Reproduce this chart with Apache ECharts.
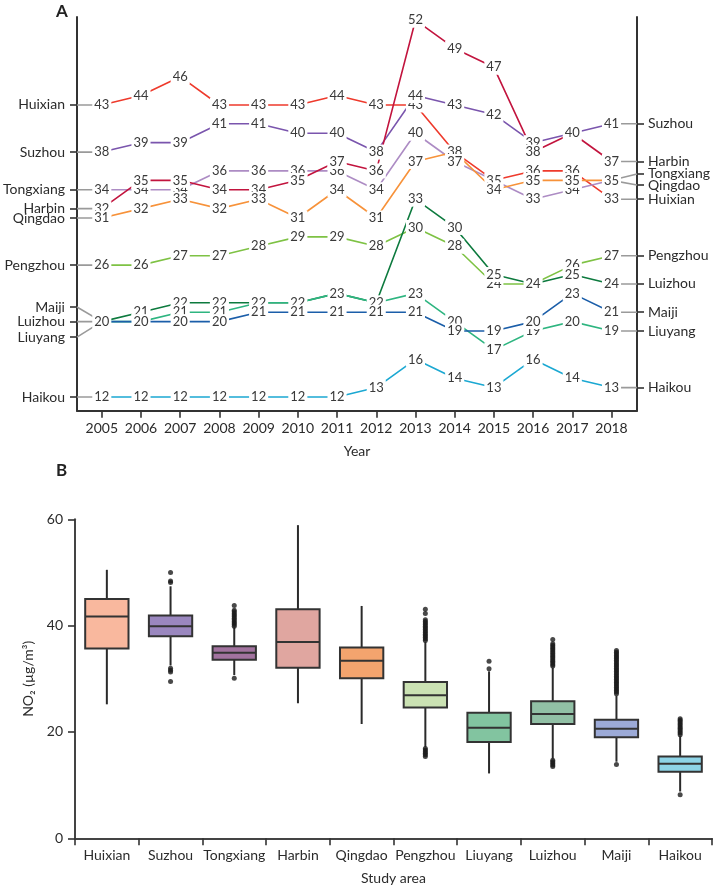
<!DOCTYPE html>
<html><head><meta charset="utf-8">
<script src="https://cdn.jsdelivr.net/npm/echarts@6/dist/echarts.min.js"></script>
<style>html,body{margin:0;padding:0;background:#fff}#c{width:713px;height:888px}</style>
</head><body><div id="c"></div>
<script>
// ---------- Panel A data ----------
const years = [2005,2006,2007,2008,2009,2010,2011,2012,2013,2014,2015,2016,2017,2018];
const huixian   = [43,44,46,43,43,43,44,43,43,38,35,36,36,33];
const suzhou    = [38,39,39,41,41,40,40,38,44,43,42,39,40,41];
const tongxiang = [34,34,34,36,36,36,36,34,40,37,35,33,34,35];
const harbin    = [32,35,35,34,34,35,37,36,52,49,47,38,40,37];
const qingdao   = [31,32,33,32,33,31,34,31,37,38,34,35,35,35];
const pengzhou  = [26,26,27,27,28,29,29,28,30,28,24,24,26,27];
const luizhou   = [20,21,22,22,22,22,23,22,33,30,25,24,25,24];
const liuyang   = [20,20,21,21,22,22,23,22,23,20,17,19,20,19];
const maiji     = [20,20,20,20,21,21,21,21,21,19,19,20,23,21];
const haikou    = [12,12,12,12,12,12,12,13,16,14,13,16,14,13];

const lineCities = ['Huixian','Suzhou','Tongxiang','Harbin','Qingdao','Pengzhou','Luizhou','Liuyang','Maiji','Haikou'];
const lineValues = [huixian,suzhou,tongxiang,harbin,qingdao,pengzhou,luizhou,liuyang,maiji,haikou];

// axis end labels (names)
const leftNames  = ['Huixian','Suzhou','Tongxiang','Harbin','Qingdao','Pengzhou','Maiji','Luizhou','Liuyang','Haikou'];
const rightNames = ['Suzhou','Harbin','Tongxiang','Qingdao','Huixian','Pengzhou','Luizhou','Maiji','Liuyang','Haikou'];

// ---------- Panel B data ----------
const boxCities = ['Huixian','Suzhou','Tongxiang','Harbin','Qingdao','Pengzhou','Liuyang','Luizhou','Maiji','Haikou'];
const boxMin    = [25.2, 32.5, 30.7, 25.4, 21.5, 17.2, 12.2, 15.0, 14.4,  8.8];
const boxQ1     = [35.7, 38.0, 33.6, 32.1, 30.1, 24.6, 18.1, 21.5, 19.0, 12.5];
const boxMedian = [41.7, 39.9, 34.9, 36.9, 33.4, 26.9, 20.8, 23.4, 20.6, 14.0];
const boxQ3     = [45.0, 41.9, 36.1, 43.1, 35.9, 29.4, 23.6, 25.8, 22.3, 15.4];
const boxMax    = [50.5, 47.4, 39.7, 58.9, 43.7, 36.9, 31.4, 32.1, 26.8, 19.2];

const outSuzhou    = [50.0, 48.4, 48.1, 32.0, 31.6, 31.3, 29.5];
const outTongxiang = [43.8, 42.9, 42.6, 42.3, 42.0, 41.7, 41.4, 41.1, 40.8, 40.5, 40.2, 39.9, 30.1];
const outPengzhou  = [43.1, 42.3, 41.1, 40.8, 40.5, 40.2, 39.9, 39.6, 39.3, 39.0, 38.7, 38.4, 38.1, 37.8, 37.5, 37.2,
                      16.9, 16.6, 16.3, 16.0, 15.7, 15.4];
const outLiuyang   = [33.3, 31.9];
const outLuizhou   = [37.4, 36.6, 36.3, 36.0, 35.7, 35.4, 35.1, 34.8, 34.5, 34.2, 33.9, 33.6, 33.3, 33.0, 32.7, 32.4,
                      14.7, 14.4, 14.1, 13.8, 13.5];
const outMaiji     = [35.3, 35.0, 34.7, 34.4, 34.1, 33.8, 33.5, 33.2, 32.9, 32.6, 32.3, 32.0, 31.7, 31.4, 31.1, 30.8,
                      30.5, 30.2, 29.9, 29.6, 29.3, 29.0, 28.7, 28.4, 28.1, 27.8, 27.5, 27.2, 13.9];
const outHaikou    = [22.5, 22.2, 21.9, 21.6, 21.3, 21.0, 20.7, 20.4, 20.1, 19.8, 19.5, 8.2];
const outliers = {Suzhou: outSuzhou, Tongxiang: outTongxiang, Pengzhou: outPengzhou, Liuyang: outLiuyang,
                  Luizhou: outLuizhou, Maiji: outMaiji, Haikou: outHaikou};

// ---------- styles / layout ----------
const lineColors = {Huixian:'#ee3a2c', Suzhou:'#7a55ad', Tongxiang:'#ad8cc4', Harbin:'#c2143e', Qingdao:'#f7923a',
                    Pengzhou:'#7ec244', Luizhou:'#0d7a3e', Liuyang:'#2eb580', Maiji:'#1b5ea9', Haikou:'#1ba8d2'};
const boxColors = ['#f9b89e','#9a87bf','#a2739f','#e0a6a0','#f3a46e','#cbe2b3','#82c4a0','#91c0a5','#9caad7','#8ed4e7'];
const leftPos  = [43,38,34,32,31,26,21.55,20,18.35,12];
const rightPos = [41,37,35.68,34.5,33,27,24,21,19,13];
const X_MIN = 2004.367, X_MAX = 2018.651, Y_MIN = 10.546, Y_MAX = 52.34;
const FONT = 'Lato';
const TXT = '#2b2b2b';

// label de-duplication: identical values in one year share one label
const shown = years.map(() => new Set());
const series = [];
lineCities.forEach((city, ci) => {
  const vals = lineValues[ci];
  const data = vals.map((v, yi) => {
    const show = !shown[yi].has(v);
    shown[yi].add(v);
    return {value: [years[yi], v], label: {show}};
  });
  series.push({
    type: 'line', xAxisIndex: 0, yAxisIndex: 0, name: city, data,
    symbol: 'circle', symbolSize: 2, showAllSymbol: true,
    lineStyle: {color: lineColors[city], width: 1.6},
    itemStyle: {color: lineColors[city]},
    label: {show: true, position: 'inside', formatter: p => p.value[1], fontFamily: FONT, fontSize: 13,
            color: '#3a3a3a', backgroundColor: '#fff', padding: [1, 2]},
    emphasis: {disabled: true}, z: 3
  });
});
// grey connectors between axis names and the first/last labels
leftNames.forEach((name, i) => {
  const v0 = lineValues[lineCities.indexOf(name)][0];
  series.push({type: 'line', xAxisIndex: 0, yAxisIndex: 0, data: [[X_MIN, leftPos[i]], [years[0], v0]],
    symbol: 'none', lineStyle: {color: '#9a9a9a', width: 1.6}, emphasis: {disabled: true}, z: 2, silent: true});
});
rightNames.forEach((name, i) => {
  const vals = lineValues[lineCities.indexOf(name)];
  const v1 = vals[vals.length - 1];
  series.push({type: 'line', xAxisIndex: 0, yAxisIndex: 0, data: [[years[years.length - 1], v1], [X_MAX, rightPos[i]]],
    symbol: 'none', lineStyle: {color: '#9a9a9a', width: 1.6}, emphasis: {disabled: true}, z: 2, silent: true});
});

// boxplots
series.push({
  type: 'custom', xAxisIndex: 1, yAxisIndex: 2,
  data: boxCities.map((c, i) => [i, boxMin[i], boxQ1[i], boxMedian[i], boxQ3[i], boxMax[i]]),
  encode: {x: 0, y: [1, 2, 3, 4, 5]},
  renderItem: (params, api) => {
    const i = api.value(0);
    const pMin = api.coord([i, api.value(1)]);
    const pQ1 = api.coord([i, api.value(2)]);
    const pMed = api.coord([i, api.value(3)]);
    const pQ3 = api.coord([i, api.value(4)]);
    const pMax = api.coord([i, api.value(5)]);
    const w = api.size([1, 0])[0] * 0.68;
    const x = pMin[0];
    return {type: 'group', children: [
      {type: 'line', shape: {x1: x, y1: pMax[1], x2: x, y2: pMin[1]}, style: {stroke: '#2a2a2a', lineWidth: 2}},
      {type: 'rect', shape: {x: x - w / 2, y: pQ3[1], width: w, height: pQ1[1] - pQ3[1]},
       style: {fill: boxColors[i], stroke: '#333', lineWidth: 2}},
      {type: 'line', shape: {x1: x - w / 2, y1: pMed[1], x2: x + w / 2, y2: pMed[1]}, style: {stroke: '#333', lineWidth: 2}}
    ]};
  },
  silent: true, z: 2
});
const outData = [];
boxCities.forEach((c, i) => { (outliers[c] || []).forEach(v => outData.push([i, v])); });
series.push({type: 'scatter', xAxisIndex: 1, yAxisIndex: 2, data: outData, symbolSize: 5,
  itemStyle: {color: '#1c1c1c'}, silent: true, z: 3});

const axisText = {fontFamily: FONT, fontSize: 14, color: TXT};
const option = {
  animation: false,
  backgroundColor: '#fff',
  title: [
    {text: 'A', left: 51, top: -2, textStyle: {fontFamily: FONT, fontSize: 17, fontWeight: 'bold', color: '#222'}},
    {text: 'B', left: 51, top: 457, textStyle: {fontFamily: FONT, fontSize: 17, fontWeight: 'bold', color: '#222'}}
  ],
  grid: [
    {left: 75, top: 17, width: 564, height: 393.7},
    {left: 75, top: 519.3, width: 637, height: 319}
  ],
  xAxis: [
    {type: 'value', gridIndex: 0, min: X_MIN, max: X_MAX,
     axisLine: {show: true, lineStyle: {color: '#333', width: 2}},
     axisTick: {show: true, customValues: years, length: 7, lineStyle: {color: '#333', width: 1.6}},
     axisLabel: {show: true, customValues: years, formatter: v => String(v), margin: 11, ...axisText},
     splitLine: {show: false},
     name: 'Year', nameLocation: 'middle', nameGap: 34, nameTextStyle: axisText},
    {type: 'category', gridIndex: 1, data: boxCities, boundaryGap: true,
     axisLine: {show: true, lineStyle: {color: '#444', width: 2}},
     axisTick: {show: true, length: 7, alignWithLabel: false, lineStyle: {color: '#333', width: 1.6}},
     axisLabel: {margin: 10, interval: 0, ...axisText},
     name: 'Study area', nameLocation: 'middle', nameGap: 33, nameTextStyle: axisText}
  ],
  yAxis: [
    {type: 'value', gridIndex: 0, min: Y_MIN, max: Y_MAX, position: 'left',
     axisLine: {show: true, lineStyle: {color: '#333', width: 2}},
     axisTick: {show: true, customValues: leftPos, length: 7, lineStyle: {color: '#333', width: 1.6}},
     axisLabel: {show: true, customValues: leftPos, formatter: v => leftNames[leftPos.indexOf(v)] || '', margin: 12, ...axisText},
     splitLine: {show: false}},
    {type: 'value', gridIndex: 0, min: Y_MIN, max: Y_MAX, position: 'right',
     axisLine: {show: true, lineStyle: {color: '#333', width: 2}},
     axisTick: {show: true, customValues: rightPos, length: 7, lineStyle: {color: '#333', width: 1.6}},
     axisLabel: {show: true, customValues: rightPos, formatter: v => rightNames[rightPos.indexOf(v)] || '', margin: 11, ...axisText},
     splitLine: {show: false}},
    {type: 'value', gridIndex: 1, min: 0, max: 60, interval: 20,
     axisLine: {show: true, lineStyle: {color: '#444', width: 2}},
     axisTick: {show: true, length: 7, lineStyle: {color: '#333', width: 1.6}},
     axisLabel: {margin: 12, ...axisText},
     splitLine: {show: false},
     name: 'NO₂ (µg/m³)', nameLocation: 'middle', nameGap: 40, nameTextStyle: axisText}
  ],
  series
};
const chart = echarts.init(document.getElementById('c'), null, {renderer: 'canvas'});
chart.setOption(option);
</script>
</body></html>
